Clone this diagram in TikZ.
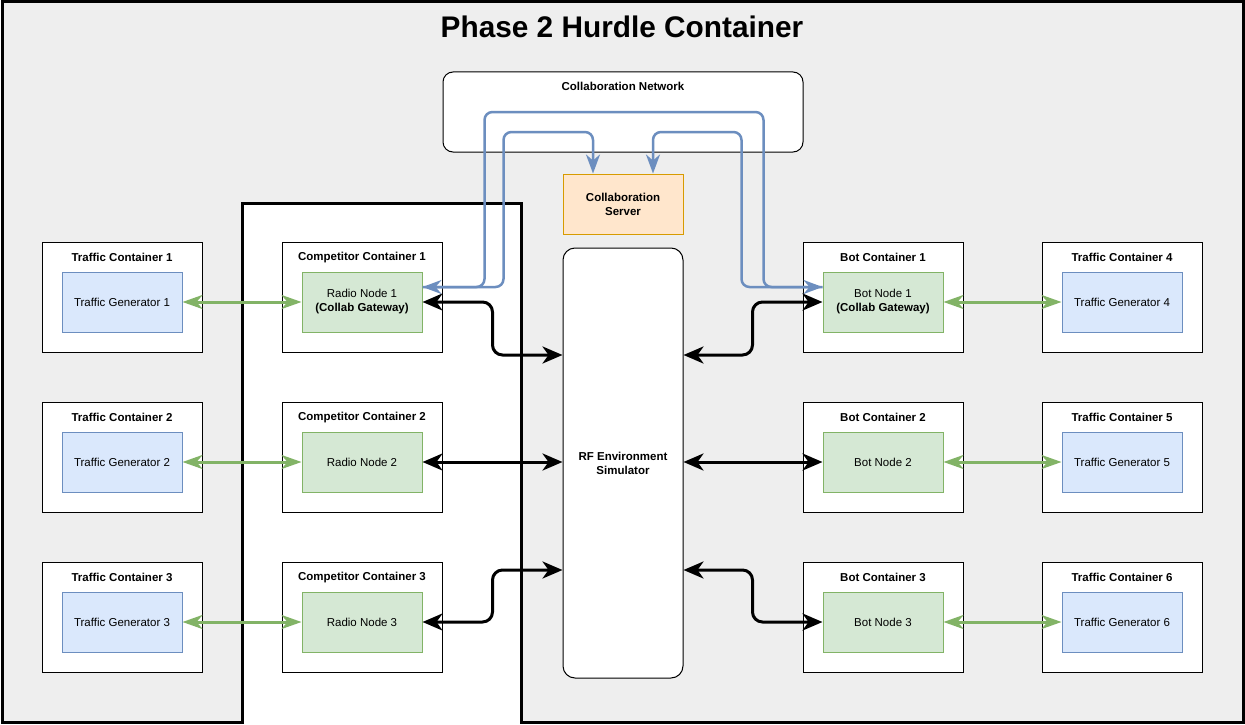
\documentclass[tikz,border=0pt]{standalone}
\usepackage{fontspec}
\setmainfont{Liberation Sans}
\usepackage{tikz}
\usetikzlibrary{positioning,arrows.meta}
\definecolor{hurdlegray}{HTML}{EEEEEE}
\definecolor{genfill}{HTML}{DAE8FC}
\definecolor{genline}{HTML}{6C8EBF}
\definecolor{radiofill}{HTML}{D5E8D4}
\definecolor{radioline}{HTML}{82B366}
\definecolor{srvfill}{HTML}{FFE6CC}
\definecolor{srvline}{HTML}{D79B00}
\def\smallfont{\fontsize{11.5}{14}\selectfont}
\tikzset{>=Stealth}
\tikzset{
  gtip/.tip={Stealth[length=20pt,width=14pt,inset=6pt]},
  ktip/.tip={Stealth[length=20pt,width=17pt,inset=6pt]},
  btip/.tip={Stealth[length=19pt,width=14pt,inset=6pt]},
  box/.style={draw=black, fill=white, line width=1pt, minimum width=160pt, minimum height=110pt, inner sep=0pt},
  boxlbl/.style={anchor=center, yshift=-16pt, font=\smallfont\bfseries},
  gen/.style={draw=genline, fill=genfill, line width=1pt, minimum width=120pt, minimum height=60pt, inner sep=0pt, align=center, font=\smallfont},
  radio/.style={gen, draw=radioline, fill=radiofill},
  garrow/.style={draw=radioline, line width=3pt, gtip-gtip},
  karrow/.style={draw=black, line width=3pt, rounded corners=10pt, ktip-ktip},
  barrow/.style={draw=genline, line width=2.5pt, rounded corners=8pt}
}

\begin{document}
\begin{tikzpicture}[x=1pt, y=-1pt]
  \useasboundingbox (0,0) rectangle (1245,725);
  % outer container with the open slot for the competitor side
  \draw[line width=3pt, fill=hurdlegray] (2,2) -- (1243,2) -- (1243,722) -- (521,722) -- (521,203)
    -- (242,203) -- (242,722) -- (2,722) -- cycle;
  \node[font=\fontsize{29.8}{34}\selectfont\bfseries] (title) at (622,27) {Phase 2 Hurdle Container};

  \node[box, minimum width=360pt, minimum height=80pt, rounded corners=10pt,
    label={[boxlbl, yshift=1pt]north:Collaboration Network}] (cnet) at (623,112) {};
  \node[gen, draw=srvline, fill=srvfill, font=\smallfont\bfseries] (csrv) at (623,204) {Collaboration\\Server};
  \node[box, minimum width=120pt, minimum height=430pt, rounded corners=12pt, font=\smallfont\bfseries, align=center] (rfsim) at (623,463) {RF Environment\\Simulator};

  \node[box, label={[boxlbl]north:Traffic Container 1}] (tc1) at (122,297) {};
  \node[box, below=49pt of tc1, label={[boxlbl]north:Traffic Container 2}] (tc2) {};
  \node[box, below=49pt of tc2, label={[boxlbl]north:Traffic Container 3}] (tc3) {};
  \node[gen, below=30pt of tc1.north] (tg1) {Traffic Generator 1};
  \node[gen, below=30pt of tc2.north] (tg2) {Traffic Generator 2};
  \node[gen, below=30pt of tc3.north] (tg3) {Traffic Generator 3};

  \node[box, right=79pt of tc1, label={[boxlbl]north:Competitor Container 1}] (cc1) {};
  \node[box, right=79pt of tc2, label={[boxlbl]north:Competitor Container 2}] (cc2) {};
  \node[box, right=79pt of tc3, label={[boxlbl]north:Competitor Container 3}] (cc3) {};
  \node[radio, below=30pt of cc1.north] (rn1) {Radio Node 1\\\textbf{(Collab Gateway)}};
  \node[radio, below=30pt of cc2.north] (rn2) {Radio Node 2};
  \node[radio, below=30pt of cc3.north] (rn3) {Radio Node 3};

  \node[box, label={[boxlbl]north:Bot Container 1}] (bc1) at (883,297) {};
  \node[box, below=49pt of bc1, label={[boxlbl]north:Bot Container 2}] (bc2) {};
  \node[box, below=49pt of bc2, label={[boxlbl]north:Bot Container 3}] (bc3) {};
  \node[radio, below=30pt of bc1.north] (bn1) {Bot Node 1\\\textbf{(Collab Gateway)}};
  \node[radio, below=30pt of bc2.north] (bn2) {Bot Node 2};
  \node[radio, below=30pt of bc3.north] (bn3) {Bot Node 3};

  \node[box, right=78pt of bc1, label={[boxlbl]north:Traffic Container 4}] (tc4) {};
  \node[box, right=78pt of bc2, label={[boxlbl]north:Traffic Container 5}] (tc5) {};
  \node[box, right=78pt of bc3, label={[boxlbl]north:Traffic Container 6}] (tc6) {};
  \node[gen, below=30pt of tc4.north] (tg4) {Traffic Generator 4};
  \node[gen, below=30pt of tc5.north] (tg5) {Traffic Generator 5};
  \node[gen, below=30pt of tc6.north] (tg6) {Traffic Generator 6};

  % traffic links
  \draw[garrow] (tg1) -- (rn1);
  \draw[garrow] (tg2) -- (rn2);
  \draw[garrow] (tg3) -- (rn3);
  \draw[garrow] (bn1) -- (tg4);
  \draw[garrow] (bn2) -- (tg5);
  \draw[garrow] (bn3) -- (tg6);

  % rf links
  \draw[karrow] (rn1.east) -- ++(70,0) |- ([yshift=108pt]rfsim.west);
  \draw[karrow] (rn2.east) -- (rn2.east -| rfsim.west);
  \draw[karrow] (rn3.east) -- ++(70,0) |- ([yshift=-107pt]rfsim.west);
  \draw[karrow] ([yshift=108pt]rfsim.east) -- ++(69,0) |- (bn1.west);
  \draw[karrow] (rfsim.east |- bn2.west) -- (bn2.west);
  \draw[karrow] ([yshift=-107pt]rfsim.east) -- ++(69,0) |- (bn3.west);

  % collaboration links
  \draw[barrow, btip-btip] ([yshift=15pt]rn1.east) -- ++(62,0) -- ++(0,-175) -- ++(279,0)
    -- ++(0,175) -- ([yshift=15pt]bn1.west);
  \draw[barrow, -btip] ([yshift=15pt]rn1.east) -- ++(81,0) -- ++(0,-155) -| ([xshift=-30pt]csrv.north);
  \draw[barrow, -btip] ([yshift=15pt]bn1.west) -- ++(-81,0) -- ++(0,-155) -| ([xshift=30pt]csrv.north);
\end{tikzpicture}
\end{document}
